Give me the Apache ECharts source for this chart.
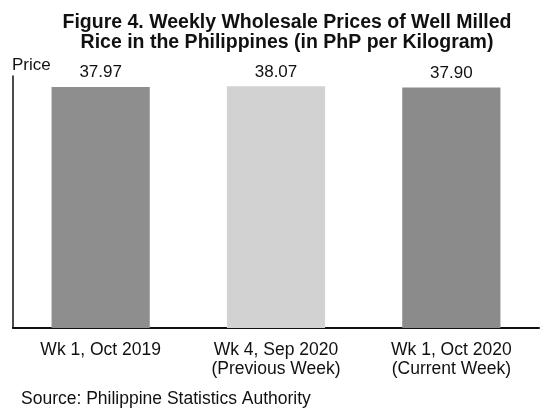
<!DOCTYPE html>
<html>
<head>
<meta charset="utf-8">
<script src="https://cdn.jsdelivr.net/npm/echarts@6/dist/echarts.min.js"></script>
<style>
	html, body { margin: 0; padding: 0; background: #fff; }
	#chart { width: 546px; height: 409px; }
</style>
</head>
<body>
<div id="chart"></div>
<script>
// 数据
const categories = ['Wk 1, Oct 2019', 'Wk 4, Sep 2020\n(Previous Week)', 'Wk 1, Oct 2020\n(Current Week)'];
const prices = [37.97, 38.07, 37.9];
const barColors = ['#8e8e8e', '#d2d2d2', '#8b8b8b'];

const chart = echarts.init(document.getElementById('chart'));
const font = 'Liberation Sans, Arial, sans-serif';

const option = {
	backgroundColor: '#fff',
	animation: false,
	title: [
		{
			text: 'Figure 4. Weekly Wholesale Prices of Well Milled\nRice in the Philippines (in PhP per Kilogram)',
			left: 282,
			top: 8,
			textAlign: 'center',
			textStyle: { fontFamily: font, fontSize: 19.5, fontWeight: 'bold', color: '#111', lineHeight: 20 },
		},
		{
			text: 'Price',
			left: 7,
			top: 52,
			textStyle: { fontFamily: font, fontSize: 17, fontWeight: 'normal', color: '#111' },
		},
		{
			text: 'Source: Philippine Statistics Authority',
			left: 16,
			top: 385,
			textStyle: { fontFamily: font, fontSize: 17.5, fontWeight: 'normal', color: '#111' },
		},
	],
	grid: { left: 13, right: 7, top: 76, bottom: 81 },
	xAxis: {
		type: 'category',
		data: categories,
		axisLine: { lineStyle: { color: '#111', width: 2 } },
		axisTick: { show: false },
		axisLabel: { fontFamily: font, fontSize: 17.5, color: '#111', lineHeight: 19, margin: 13, interval: 0 },
	},
	yAxis: {
		type: 'value',
		min: 0,
		max: 39.7,
		axisLine: { show: true, lineStyle: { color: '#111', width: 1.5 } },
		axisTick: { show: false },
		axisLabel: { show: false },
		splitLine: { show: false },
	},
	series: [
		{
			type: 'bar',
			barWidth: '56%',
			data: prices.map((v, i) => ({ value: v, itemStyle: { color: barColors[i] } })),
			label: {
				show: true,
				position: 'top',
				distance: 6,
				fontFamily: font,
				fontSize: 17,
				color: '#111',
				formatter: (p) => p.value.toFixed(2),
			},
		},
	],
};

chart.setOption(option);
</script>
</body>
</html>
